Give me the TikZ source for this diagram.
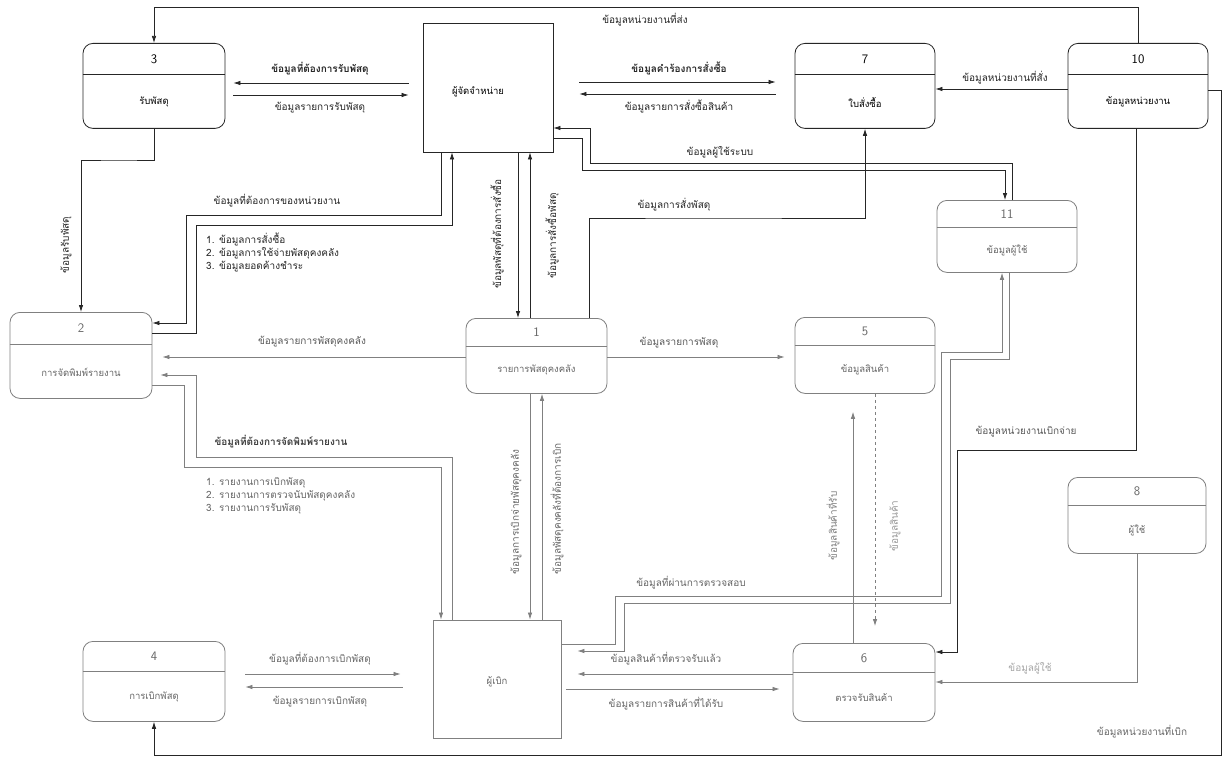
\documentclass[tikz,border=0pt]{standalone}
\usepackage{fontspec}
\setmainfont{Liberation Sans}
\newfontfamily\thai[Script=Thai]{Loma}
\usetikzlibrary{arrows.meta,calc}
\tikzset{
  ink/.style={draw=black!85, line width=0.75pt},
  pale/.style={draw=black!50, text=black!60},
  flow/.style={ink, -{Latex[length=7pt,width=4.5pt]}},
  proc/.style={draw=black!85, line width=0.8pt, rounded corners=10pt, inner sep=0pt},
  ext/.style={draw=black!85, line width=0.8pt, inner sep=0pt},
  lbl/.style={font=\thai\fontsize{10}{13}\selectfont, inner sep=1pt, text=black!85},
  numtxt/.style={font=\sffamily\fontsize{13}{13}\selectfont, inner sep=0pt},
  boxtxt/.style={font=\thai\fontsize{9.5}{11}\selectfont, inner sep=1pt},
}
% #1 style, #2 name, #3 top centre, #4 width, #5 height, #6 number, #7 text
\newcommand\dfdproc[7][]{%
  \node[proc,#1,minimum width=#4pt,minimum height=#5pt,anchor=north] (#2) at (#3) {};
  \draw[ink,line width=0.8pt,#1] ($(#2.north west)!0.37!(#2.south west)$) -- ($(#2.north east)!0.37!(#2.south east)$);
  \node[numtxt,#1,draw=none] (#2n) at ($(#2.north)!0.19!(#2.south)$) {#6};
  \node[boxtxt,#1,draw=none] (#2t) at ($(#2.north)!0.69!(#2.south)$) {#7};
}
\begin{document}
\begin{tikzpicture}[x=1pt,y=-1pt]
\path[use as bounding box, fill=white] (0,0) rectangle (1225,757);

% ---------- boxes ----------
\dfdproc{p3}{154,43}{142}{85}{3}{รับพัสดุ}
\node[ext, minimum width=130pt, minimum height=129pt] (sup) at (488,87.5) {};
\node[boxtxt] (supt) at (478,92) {ผู้จัดจำหน่าย};
\dfdproc{p7}{865,43}{140}{85}{7}{ใบสั่งซื้อ}
\dfdproc{p10}{1138,43}{140}{85}{10}{ข้อมูลหน่วยงาน}
\dfdproc[pale]{p11}{1007,200}{140}{72}{11}{ข้อมูลผู้ใช้}
\dfdproc[pale]{p2}{81,312}{142}{86}{2}{การจัดพิมพ์รายงาน}
\dfdproc[pale]{p1}{536.5,318}{141}{75}{1}{รายการพัสดุคงคลัง}
\dfdproc[pale]{p5}{865,317}{140}{76}{5}{ข้อมูลสินค้า}
\dfdproc[pale]{p8}{1137,477}{138}{76}{8}{ผู้ใช้}
\dfdproc[pale]{p4}{154,641}{142}{80}{4}{การเบิกพัสดุ}
\node[ext,pale, minimum width=128pt, minimum height=118pt] (req) at (497,679) {};
\node[boxtxt,text=black!60] (reqt) at (497,682) {ผู้เบิก};
\dfdproc[pale]{p6}{864,643}{142}{78}{6}{ตรวจรับสินค้า}

% ---------- helper coordinates ----------
\coordinate (t1) at (0,7);
\coordinate (a83) at (0,83);  \coordinate (a95) at (0,95);
\coordinate (a82) at (0,82);  \coordinate (a94) at (0,94);
\coordinate (a89) at (0,89);  \coordinate (a90) at (0,90);
\coordinate (rb) at (1221,755);
\coordinate (u1) at (590,163); \coordinate (u2) at (590,128);
\coordinate (l1) at (582,138); \coordinate (l2) at (582,170);
\coordinate (m1) at (700,218);
\coordinate (v441) at (441,0); \coordinate (v452) at (452,0);
\coordinate (v518) at (518,0); \coordinate (v530) at (530,0); \coordinate (v542) at (542,0);
\coordinate (v853) at (853,0); \coordinate (v875) at (875,0);
\coordinate (h157) at (120,160);
\coordinate (aa1) at (186,215); \coordinate (aa2) at (186,323);
\coordinate (bb1) at (196,333); \coordinate (bb2) at (196,225);
\coordinate (c357) at (0,357);
\coordinate (pp1) at (184,385); \coordinate (pp2) at (184,467);
\coordinate (qq1) at (196,457); \coordinate (qq2) at (196,375);
\coordinate (y674) at (0,674); \coordinate (y687) at (0,687); \coordinate (y689) at (0,689);
\coordinate (al0) at (615,644); \coordinate (al1) at (615,596); \coordinate (al2) at (941,596);
\coordinate (al3) at (941,352); \coordinate (al4) at (1002,352);
\coordinate (be0) at (1009,359); \coordinate (be1) at (950,359); \coordinate (be2) at (950,603);
\coordinate (be3) at (624,603); \coordinate (be4) at (624,651);
\coordinate (ten1) at (957,450); \coordinate (ten2) at (957,652);
\coordinate (e682) at (0,682);

% ---------- top row flows ----------
\draw[flow] (p10.north) -- (p10.north |- t1) -| (p3.north);
\node[lbl] (ltop) at (645,20) {ข้อมูลหน่วยงานที่ส่ง};

\draw[flow, shorten <=14pt, shorten >=8pt] (sup.west |- a83) -- (p3.east |- a83);
\draw[flow, shorten <=8pt, shorten >=14pt] (p3.east |- a95) -- (sup.west |- a95);
\node[lbl] (lS3) at (320,69) {\bfseries ข้อมูลที่ต้องการรับพัสดุ};
\node[lbl] (l3S) at (320,108) {ข้อมูลรายการรับพัสดุ};

\draw[flow, shorten <=26pt, shorten >=19pt] (sup.east |- a82) -- (p7.west |- a82);
\draw[flow, shorten <=19pt, shorten >=26pt] (p7.west |- a94) -- (sup.east |- a94);
\node[lbl] (lS7) at (679,68) {\bfseries ข้อมูลคำร้องการสั่งซื้อ};
\node[lbl] (l7S) at (679,107) {ข้อมูลรายการสั่งซื้อสินค้า};

\draw[flow] (p10.west |- a89) -- (p7.east |- a89);
\node[lbl] (l107) at (1005,78) {ข้อมูลหน่วยงานที่สั่ง};

\draw[flow] (p10.east |- a90) -| (rb) -| (p4.south);
\node[lbl,text=black!60] (lloop) at (1142,732) {ข้อมูลหน่วยงานที่เบิก};

% supplier <-> 11
\draw[flow] ([xshift=5pt]p11.north) |- (u1) -- (u2) -- (sup.east |- u2);
\draw[flow] (sup.east |- l1) -- (l1) -- (l2) -| ([xshift=-2pt]p11.north);
\node[lbl] (lU) at (720,152) {ข้อมูลผู้ใช้ระบบ};

% 1 -> 7
\draw[flow] ([xshift=52.5pt]p1.north) |- (m1) -| (p7.south);
\node[lbl] (l17) at (674,205) {ข้อมูลการสั่งพัสดุ};

% supplier <-> 1
\draw[flow] (sup.south -| v518) -- (p1.north -| v518);
\draw[flow] (p1.north -| v530) -- (sup.south -| v530);
\node[lbl, rotate=90] (lS1) at (497,234) {ข้อมูลพัสดุที่ต้องการสั่งซื้อ};
\node[lbl, rotate=90] (l1S) at (552,236) {ข้อมูลการสั่งซื้อพัสดุ};

% 3 -> 2
\draw[flow] (p3.south) |- (h157) -| (p2.north);
\node[lbl, rotate=90] (l32) at (66,245) {ข้อมูลรับพัสดุ};

% supplier <-> 2
\draw[flow] (sup.south -| v441) |- (aa1) -- (aa2) -- (p2.east |- aa2);
\draw[flow] (p2.east |- bb1) -- (bb1) -- (bb2) -| (sup.south -| v452);
\node[lbl] (lS2) at (277,201) {ข้อมูลที่ต้องการของหน่วยงาน};
\node[lbl, anchor=north west, align=left] (list1) at (205,232)
  {1. ข้อมูลการสั่งซื้อ\\2. ข้อมูลการใช้จ่ายพัสดุคงคลัง\\3. ข้อมูลยอดค้างชำระ};

% 1 -> 2, 1 -> 5
\draw[flow,pale, shorten >=10pt] (p1.west |- c357) -- (p2.east |- c357);
\node[lbl,text=black!65] (l12) at (312,342) {ข้อมูลรายการพัสดุคงคลัง};
\draw[flow,pale, shorten >=10pt] (p1.east |- c357) -- (p5.west |- c357);
\node[lbl,text=black!65] (l15) at (679,343) {ข้อมูลรายการพัสดุ};

% 2 <-> requester
\draw[flow,pale] (p2.east |- pp1) -- (pp1) -- (pp2) -| (req.north -| v441);
\draw[flow,pale, shorten >=8pt] (req.north -| v452) |- (qq1) -- (qq2) -- (p2.east |- qq2);
\node[lbl,text=black!75] (l2R) at (281,442) {\bfseries ข้อมูลที่ต้องการจัดพิมพ์รายงาน};
\node[lbl,text=black!60, anchor=north west, align=left] (list2) at (205,476)
  {1. รายงานการเบิกพัสดุ\\2. รายงานการตรวจนับพัสดุคงคลัง\\3. รายงานการรับพัสดุ};

% 1 <-> requester
\draw[flow,pale] (p1.south -| v530) -- (req.north -| v530);
\draw[flow,pale] (req.north -| v542) -- (p1.south -| v542);
\node[lbl,rotate=90,text=black!60] (l1R) at (516,512) {ข้อมูลการเบิกจ่ายพัสดุคงคลัง};
\node[lbl,rotate=90,text=black!60] (lR1) at (557,509) {ข้อมูลพัสดุคงคลังที่ต้องการเบิก};

% 4 <-> requester
\draw[flow,pale, shorten <=20pt, shorten >=32pt] (p4.east |- y674) -- (req.west |- y674);
\draw[flow,pale, shorten <=30pt, shorten >=20pt] (req.west |- y687) -- (p4.east |- y687);
\node[lbl,text=black!60] (l4R) at (320,659) {ข้อมูลที่ต้องการเบิกพัสดุ};
\node[lbl,text=black!60] (lR4) at (320,702) {ข้อมูลรายการเบิกพัสดุ};

% 6 <-> requester
\draw[flow,pale, shorten >=16pt] (p6.west |- y674) -- (req.east |- y674);
\draw[flow,pale, shorten <=5pt, shorten >=13pt] (req.east |- y689) -- (p6.west |- y689);
\node[lbl,text=black!60] (l6R) at (666,659) {ข้อมูลสินค้าที่ตรวจรับแล้ว};
\node[lbl,text=black!60] (lR6) at (666,704) {ข้อมูลรายการสินค้าที่ได้รับ};

% requester <-> 11
\draw[flow,pale] (req.east |- al0) -- (al0) -- (al1) -- (al2) -- (al3) -- (al4) -- ([xshift=-5pt]p11.south);
\draw[flow,pale, shorten >=16pt] ([xshift=2pt]p11.south) -- (be0) -- (be1) -- (be2) -- (be3) -- (be4) -- (req.east |- be4);
\node[lbl,text=black!60] (lal) at (691,583) {ข้อมูลที่ผ่านการตรวจสอบ};

% 5 <-> 6
\draw[flow,pale, shorten >=18pt] (p6.north -| v853) -- (p5.south -| v853);
\draw[flow,pale, dashed, shorten >=17pt] (p5.south -| v875) -- (p6.north -| v875);
\node[lbl,rotate=90,text=black!50] (l65) at (833,526) {ข้อมูลสินค้าที่รับ};
\node[lbl,rotate=90,text=black!40] (l56) at (895,526) {ข้อมูลสินค้า};

% 10 -> 6, 8 -> 6
\draw[flow] ([xshift=-2pt]p10.south) |- (ten1) -- (ten2) -- (p6.east |- ten2);
\node[lbl,text=black!65] (l106) at (1026,432) {ข้อมูลหน่วยงานเบิกจ่าย};
\draw[flow,pale] (p8.south) |- (p6.east |- e682);
\node[lbl,text=black!35] (l86) at (1030,668) {ข้อมูลผู้ใช้};
\end{tikzpicture}
\end{document}
